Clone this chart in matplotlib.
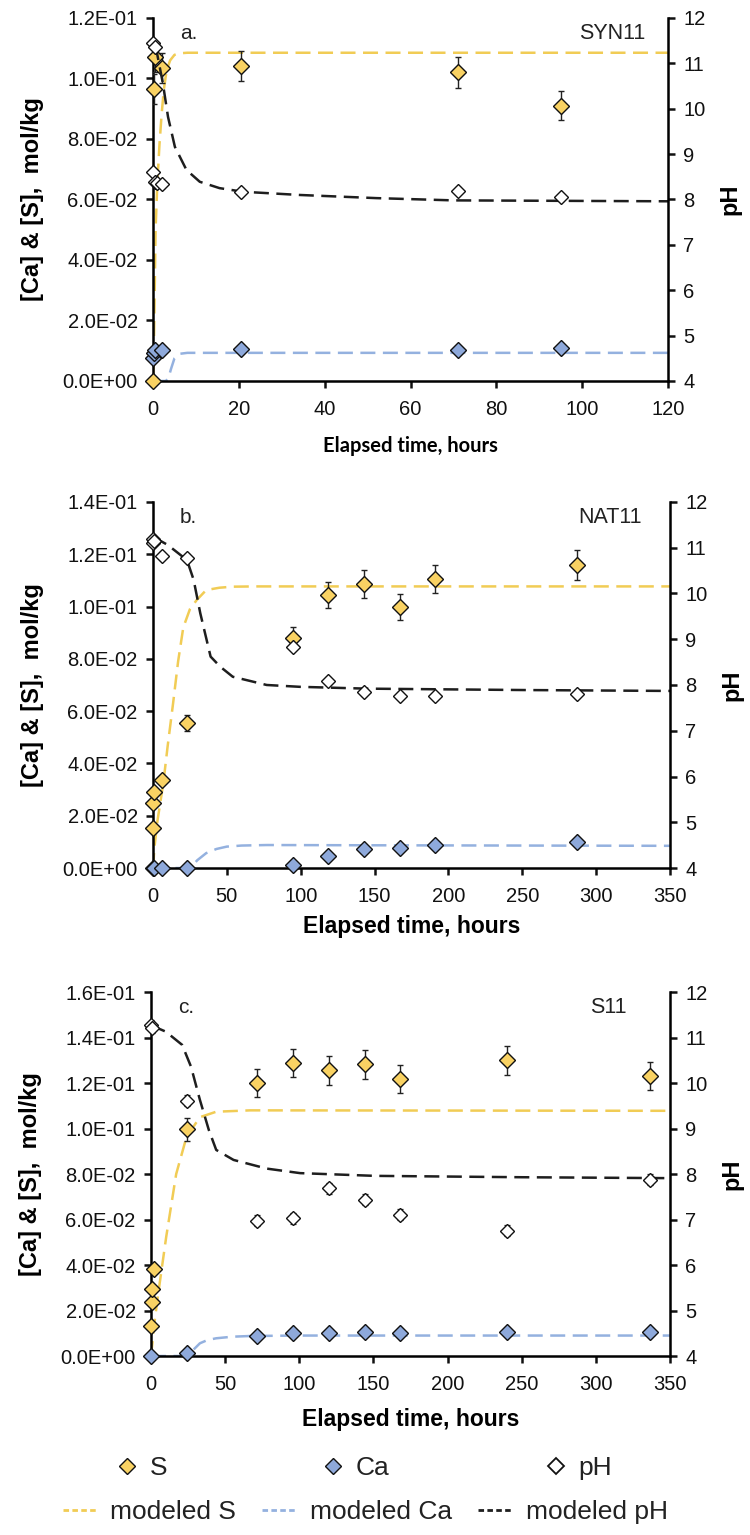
"""
plot.py

S, Ca and pH against elapsed time for SYN11, NAT11 and S11, measured and modeled.
"""
import matplotlib
matplotlib.use("Agg")
import matplotlib.pyplot as plt
from matplotlib import ticker
from matplotlib.lines import Line2D

plt.rcParams["font.family"] = ["Liberation Sans", "DejaVu Sans"]

# ---- panel a: SYN11 ----
a_t_s = [0, 0.25, 0.5, 2.2, 20.5, 71, 95]
a_s = [0, 0.0965, 0.107, 0.1035, 0.104, 0.102, 0.091]
a_s_err = [0, 0.005, 0.005, 0.005, 0.005, 0.005, 0.0047]
a_t_ca = [0, 0.25, 0.5, 2.2, 20.5, 71, 95]
a_ca = [0.0075, 0.0092, 0.0102, 0.0102, 0.0105, 0.0102, 0.011]
a_t_ph = [0, 0, 0.5, 0.5, 1, 2.2, 20.5, 71, 95]
a_ph = [11.44, 8.61, 11.37, 8.39, 8.36, 8.33, 8.17, 8.19, 8.05]
a_mod_t_s = [0, 0.2, 0.4, 0.6, 1, 1.5, 2, 2.5, 3, 3.5, 4, 5, 6, 8, 120]
a_mod_s = [0, 0.01, 0.03, 0.05, 0.065, 0.078, 0.088, 0.096, 0.101, 0.104,
           0.106, 0.1078, 0.1083, 0.1085, 0.1085]
a_mod_t_ca = [0, 3, 3.6, 4.2, 5, 6.3, 8, 120]
a_mod_ca = [0, 0, 0.001, 0.004, 0.0075, 0.009, 0.0093, 0.0093]
a_mod_t_ph = [0, 0.8, 2.3, 3.5, 5.1, 7.8, 10.9, 15.5, 21, 34, 52, 70, 120]
a_mod_ph = [11.37, 11.29, 10.56, 9.82, 9.16, 8.65, 8.39, 8.25, 8.17, 8.1,
            8.03, 7.98, 7.96]

# ---- panel b: NAT11 ----
b_t_s = [0, 0.25, 1, 6, 23, 94.5, 118.5, 143, 167, 191, 287]
b_s = [0.0153, 0.0249, 0.029, 0.0337, 0.0555, 0.088, 0.1044, 0.1086,
       0.0998, 0.1105, 0.116]
b_s_err = [0, 0, 0, 0, 0.003, 0.004, 0.005, 0.0055, 0.005, 0.0055, 0.0058]
b_t_ca = [0, 1, 6, 23, 94.5, 118.5, 143, 167, 191, 287]
b_ca = [0, 0, 0, 0, 0.0012, 0.0047, 0.0072, 0.0077, 0.0088, 0.0100]
b_t_ph = [0, 0, 0.5, 6, 23, 94.5, 118.5, 143, 167, 191, 287]
b_ph = [11.2, 11.1, 11.15, 10.82, 10.78, 8.84, 8.09, 7.85, 7.77, 7.75, 7.8]
b_mod_t_s = [0, 1, 3, 7, 10, 13.6, 17, 20.5, 25, 29.6, 36, 45, 54, 70, 350]
b_mod_s = [0, 0.008, 0.018, 0.0325, 0.047, 0.063, 0.079, 0.092, 0.099,
           0.1025, 0.1063, 0.1072, 0.1076, 0.1077, 0.1077]
b_mod_t_ca = [0, 20, 26, 30, 36, 43, 50, 60, 77, 150, 250, 350]
b_mod_ca = [0, 0, 0.0005, 0.003, 0.0057, 0.0073, 0.0082, 0.0086, 0.0088,
            0.0087, 0.0086, 0.0085]
b_mod_t_ph = [0, 10, 23, 27.5, 32, 39, 45.5, 54, 77, 99.5, 145, 250, 350]
b_mod_ph = [11.24, 11.06, 10.73, 10.3, 9.57, 8.62, 8.4, 8.18, 8.0, 7.96,
            7.92, 7.89, 7.87]

# ---- panel c: S11 ----
c_t_s = [0, 0.5, 1, 2, 24.5, 71.7, 95.5, 120, 144, 168, 240, 336.5]
c_s = [0.0132, 0.0239, 0.0293, 0.0382, 0.0996, 0.12, 0.1287, 0.1257,
       0.1282, 0.1218, 0.1301, 0.1231]
c_s_err = [0, 0, 0, 0, 0.005, 0.006, 0.0062, 0.0064, 0.0064, 0.0062,
           0.0064, 0.0062]
c_t_ca = [0, 24.5, 71.7, 95.5, 120, 144, 168, 240, 336.5]
c_ca = [0, 0.0013, 0.0088, 0.0103, 0.0103, 0.0105, 0.0103, 0.0104, 0.0104]
c_t_ph = [0, 0.5, 24.5, 71.7, 95.5, 120, 144, 168, 240, 336.5]
c_ph = [11.27, 11.22, 9.61, 6.97, 7.03, 7.69, 7.44, 7.11, 6.75, 7.87]
c_mod_t_s = [0, 1, 2, 4.9, 10.3, 17, 24, 33, 44, 67, 350]
c_mod_s = [0, 0.006, 0.013, 0.0275, 0.0525, 0.08, 0.0964, 0.105, 0.1074,
           0.108, 0.1078]
c_mod_t_ca = [0, 20, 25, 29, 33, 38, 44, 55, 67, 100, 350]
c_mod_ca = [0, 0, 0.0005, 0.003, 0.0056, 0.007, 0.0078, 0.0085, 0.0088,
            0.009, 0.009]
c_mod_t_ph = [0, 10, 21, 27, 33, 39, 44, 55.7, 78, 100.6, 151, 250, 349]
c_mod_ph = [11.27, 11.13, 10.84, 10.36, 9.63, 8.97, 8.53, 8.31, 8.12,
            8.02, 7.96, 7.93, 7.91]

S_FILL = "#F9D263"
CA_FILL = "#8EA9DB"
S_LINE = "#F1CC55"
CA_LINE = "#94B1DF"
PH_LINE = "#1E1E1E"
DASH = (6, 3)


def sci(x, pos):
    """Excel style 0.0E+00 tick labels"""
    return "{:.1E}".format(x)


def draw_panel(rect, xmax, xstep, ymax, tag, name, name_x,
               t_s, s, s_err, t_ca, ca, t_ph, ph,
               mt_s, ms, mt_ca, mca, mt_ph, mph,
               xlabel_font, xlabel_size, xlabel_pad, ph_err=0.08):
    ax = fig.add_axes(rect)
    ax2 = ax.twinx()

    # modeled curves
    ax.plot(mt_s, ms, color=S_LINE, lw=1.8, dashes=DASH, zorder=2)
    ax.plot(mt_ca, mca, color=CA_LINE, lw=1.8, dashes=DASH, zorder=2)
    ax2.plot(mt_ph, mph, color=PH_LINE, lw=1.8, dashes=DASH, zorder=2)

    # measured
    ax.errorbar(t_s, s, yerr=s_err, fmt="none", ecolor="#222222",
                elinewidth=1.0, capsize=2.5, capthick=1.0, zorder=3)
    ax.plot(t_s, s, ls="none", marker="D", ms=7.7, mfc=S_FILL, mec="#111111",
            mew=1.0, zorder=4, clip_on=False)
    ax.plot(t_ca, ca, ls="none", marker="D", ms=7.7, mfc=CA_FILL,
            mec="#111111", mew=1.0, zorder=4, clip_on=False)
    ax2.errorbar(t_ph, ph, yerr=ph_err, fmt="none", ecolor="#222222",
                 elinewidth=0.9, capsize=2, capthick=0.9, zorder=3)
    ax2.plot(t_ph, ph, ls="none", marker="D", ms=6.7, mfc="white",
             mec="#111111", mew=1.0, zorder=4, clip_on=False)

    ax.set_xlim(0, xmax)
    ax.set_ylim(0, ymax)
    ax2.set_ylim(4, 12)
    ax.xaxis.set_major_locator(ticker.MultipleLocator(xstep))
    ax.yaxis.set_major_locator(ticker.MultipleLocator(0.02))
    ax.yaxis.set_major_formatter(ticker.FuncFormatter(sci))
    ax2.yaxis.set_major_locator(ticker.MultipleLocator(1))

    for a in (ax, ax2):
        a.spines["top"].set_visible(False)
        for side in ("left", "right", "bottom"):
            a.spines[side].set_linewidth(1.8)
    ax.spines["right"].set_visible(False)
    ax2.spines["left"].set_visible(False)
    ax2.spines["bottom"].set_visible(False)

    ax.tick_params(axis="y", direction="out", length=5, width=1.8,
                   labelsize=14.5, pad=6, colors="#111111")
    ax.tick_params(axis="x", direction="out", length=5, width=1.8,
                   labelsize=14.5, pad=9, colors="#111111")
    ax2.tick_params(axis="y", direction="out", length=5, width=1.8,
                    labelsize=14.5, pad=6, colors="#111111")

    ax.set_ylabel("[Ca] & [S],  mol/kg", fontsize=17, fontweight="bold",
                  labelpad=13)
    ax2.set_ylabel("pH", fontsize=17, fontweight="bold", labelpad=9)
    ax.set_xlabel("Elapsed time, hours", fontsize=xlabel_size,
                  fontweight="bold", family=xlabel_font, labelpad=xlabel_pad)

    ax.text(0.052, 0.958, tag, transform=ax.transAxes, fontsize=15,
            ha="left", va="center", color="#222222")
    ax.text(name_x, 0.958, name, transform=ax.transAxes, fontsize=15.5,
            ha="right", va="center", color="#222222")
    return ax


fig = plt.figure(figsize=(7.5, 15.35), dpi=100)

draw_panel([0.204, 0.7518, 0.6867, 0.2365], 120, 20, 0.12, "a.", "SYN11",
           0.955, a_t_s, a_s, a_s_err, a_t_ca, a_ca, a_t_ph, a_ph,
           a_mod_t_s, a_mod_s, a_mod_t_ca, a_mod_ca, a_mod_t_ph, a_mod_ph,
           ["Lato", "DejaVu Sans"], 14.5, 12)
draw_panel([0.204, 0.4345, 0.6893, 0.2385], 350, 50, 0.14, "b.", "NAT11",
           0.946, b_t_s, b_s, b_s_err, b_t_ca, b_ca, b_t_ph, b_ph,
           b_mod_t_s, b_mod_s, b_mod_t_ca, b_mod_ca, b_mod_t_ph, b_mod_ph,
           ["Liberation Sans", "DejaVu Sans"], 16.5, 6)
draw_panel([0.2013, 0.1166, 0.692, 0.2371], 350, 50, 0.16, "c.", "S11",
           0.917, c_t_s, c_s, c_s_err, c_t_ca, c_ca, c_t_ph, c_ph,
           c_mod_t_s, c_mod_s, c_mod_t_ca, c_mod_ca, c_mod_t_ph, c_mod_ph,
           ["Liberation Sans", "DejaVu Sans"], 16.5, 10, ph_err=0.12)

# legend, two rows
marker_handles = [
    Line2D([], [], ls="none", marker="D", ms=7.7, mfc=S_FILL, mec="#111111",
           mew=1.0),
    Line2D([], [], ls="none", marker="D", ms=7.7, mfc=CA_FILL, mec="#111111",
           mew=1.0),
    Line2D([], [], ls="none", marker="D", ms=7.7, mfc="white", mec="#111111",
           mew=1.3),
]
fig.legend(marker_handles, ["S", "Ca", "pH"], ncol=3, frameon=False,
           fontsize=19, loc="center", bbox_to_anchor=(0.484, 0.0436),
           handlelength=1.0, handletextpad=0.35, columnspacing=5.8,
           labelcolor="#222222")
line_handles = [
    Line2D([], [], color=S_LINE, lw=2, dashes=(2, 1.2)),
    Line2D([], [], color=CA_LINE, lw=2, dashes=(2, 1.2)),
    Line2D([], [], color=PH_LINE, lw=2, dashes=(2, 1.2)),
]
fig.legend(line_handles, ["modeled S", "modeled Ca", "modeled pH"], ncol=3,
           frameon=False, fontsize=19, loc="center",
           bbox_to_anchor=(0.487, 0.0150), handlelength=1.3,
           handletextpad=0.5, columnspacing=1.0, labelcolor="#222222")

fig.savefig("out.png", dpi=100)
